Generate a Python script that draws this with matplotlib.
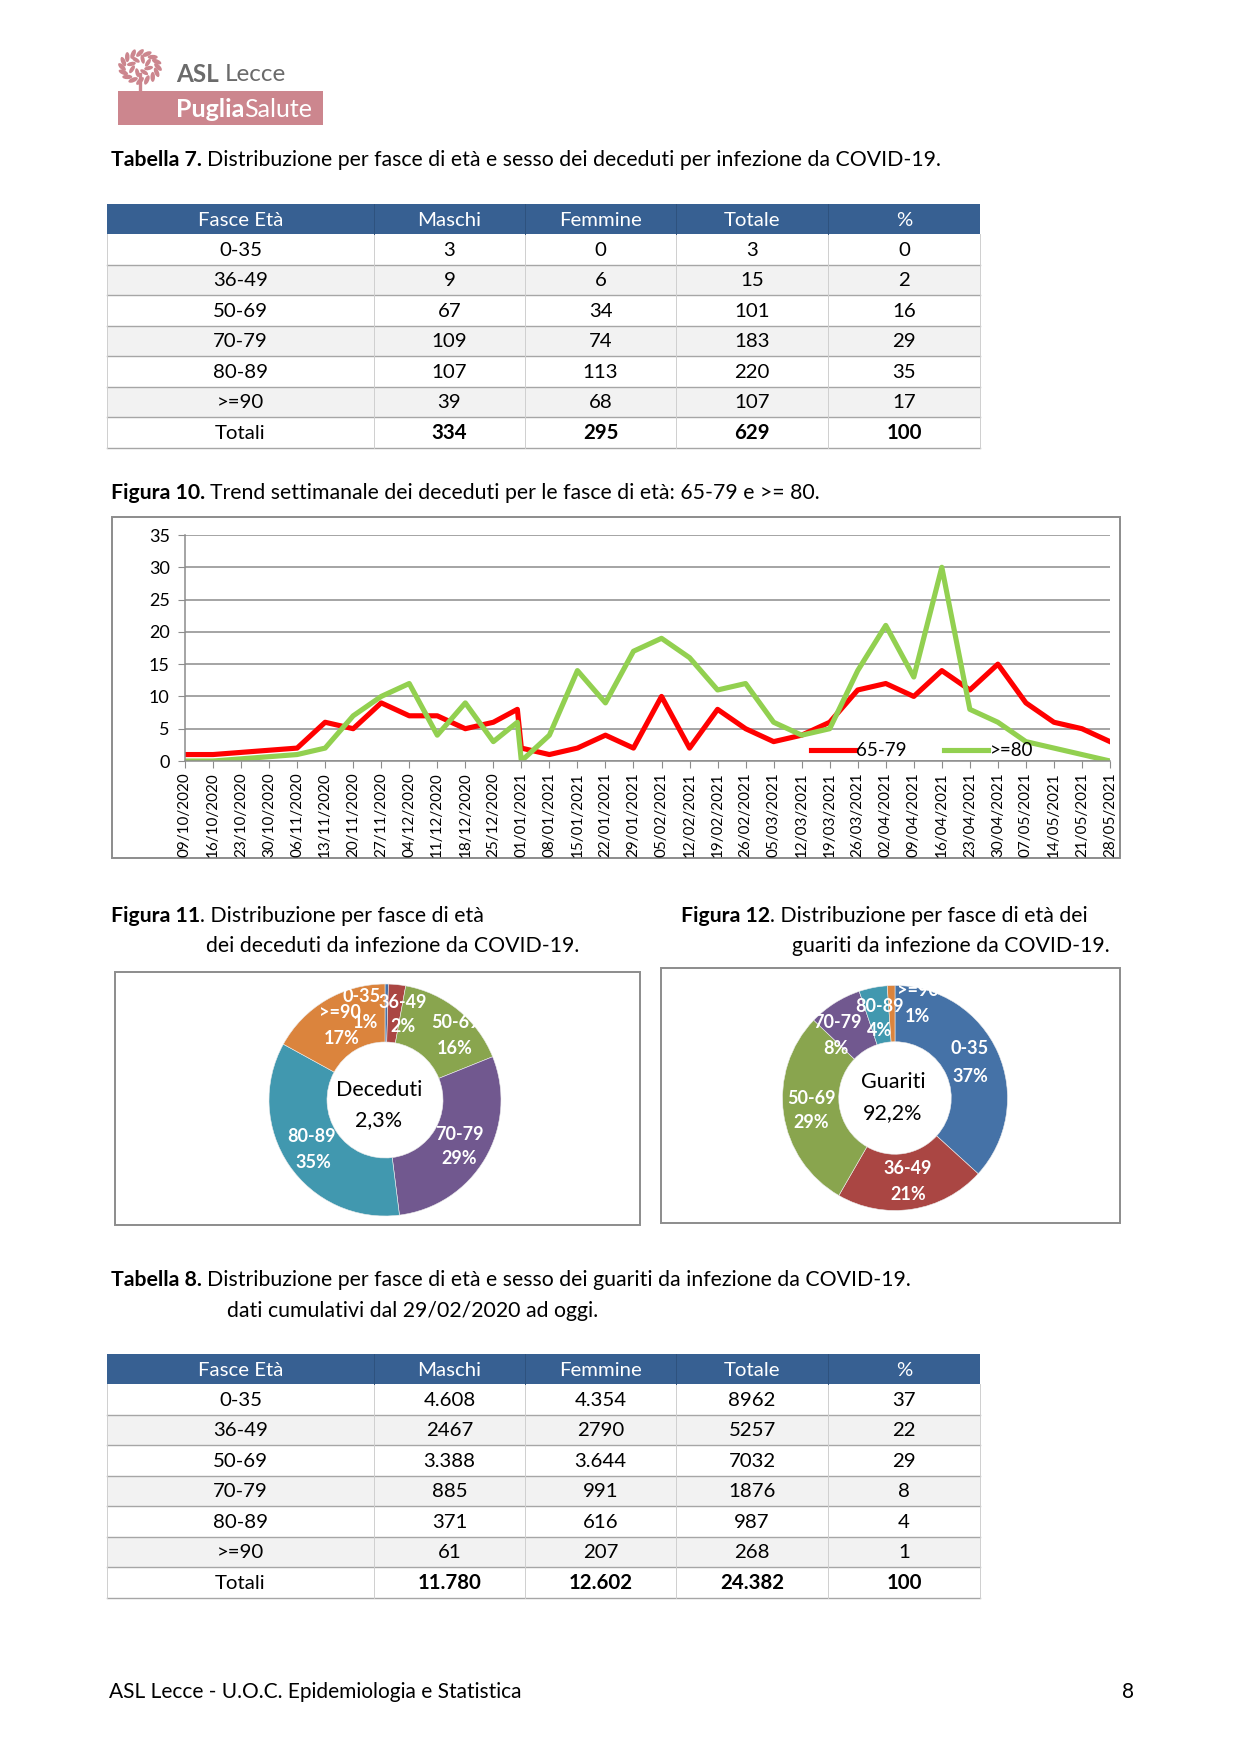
import matplotlib
matplotlib.use('Agg')
import matplotlib.pyplot as plt
from matplotlib.patches import Rectangle, Ellipse
import pandas as pd
import numpy as np

plt.rcParams['font.family'] = ['Lato', 'DejaVu Sans']

# ---- data ----
fasce = ['0-35', '36-49', '50-69', '70-79', '80-89', '>=90']
col_heads = ['Fasce Età', 'Maschi', 'Femmine', 'Totale', '%']

dec_maschi = [3, 9, 67, 109, 107, 39]
dec_femmine = [0, 6, 34, 74, 113, 68]
dec_totale = [3, 15, 101, 183, 220, 107]
dec_pct = [0, 2, 16, 29, 35, 17]
dec_tot_row = ['334', '295', '629', '100']

gua_maschi = ['4.608', '2467', '3.388', '885', '371', '61']
gua_femmine = ['4.354', '2790', '3.644', '991', '616', '207']
gua_totale = [8962, 5257, 7032, 1876, 987, 268]
gua_pct = [37, 22, 29, 8, 4, 1]
gua_tot_row = ['11.780', '12.602', '24.382', '100']

week_dates = ['09/10/2020', '16/10/2020', '06/11/2020', '13/11/2020', '20/11/2020',
              '27/11/2020', '04/12/2020', '11/12/2020', '18/12/2020', '25/12/2020',
              '31/12/2020', '01/01/2021', '08/01/2021', '15/01/2021', '22/01/2021',
              '29/01/2021', '05/02/2021', '12/02/2021', '19/02/2021', '26/02/2021',
              '05/03/2021', '12/03/2021', '19/03/2021', '26/03/2021', '02/04/2021',
              '09/04/2021', '16/04/2021', '23/04/2021', '30/04/2021', '07/05/2021',
              '14/05/2021', '21/05/2021', '28/05/2021']
dec_65_79 = [1, 1, 2, 6, 5, 9, 7, 7, 5, 6, 8, 2, 1, 2, 4, 2, 10, 2, 8, 5,
             3, 4, 6, 11, 12, 10, 14, 11, 15, 9, 6, 5, 3]
dec_80 = [0, 0, 1, 2, 7, 10, 12, 4, 9, 3, 6, 0, 4, 14, 9, 17, 19, 16, 11, 12,
          6, 4, 5, 14, 21, 13, 30, 8, 6, 3, 2, 1, 0]

dec_pie_pct = ['1%', '2%', '16%', '29%', '35%', '17%']
gua_pie_pct = ['37%', '21%', '29%', '8%', '4%', '1%']

pie_colors = ['#4572A7', '#AA4643', '#89A54E', '#71588F', '#4198AF', '#DB843D']

W, H = 1241, 1755
fig = plt.figure(figsize=(W / 100, H / 100), dpi=100)
ov = fig.add_axes([0, 0, 1, 1], zorder=0)
ov.set_xlim(0, W)
ov.set_ylim(H, 0)
ov.axis('off')
rend = fig.canvas.get_renderer()


def px_axes(x0, y0, x1, y1):
    return fig.add_axes([x0 / W, 1 - y1 / H, (x1 - x0) / W, (y1 - y0) / H], zorder=2)


def rich(x, y, parts, size=15.3, color='black'):
    # parts: (text, bold, gap before in px)
    for s, bold, gap in parts:
        x += gap
        t = ov.text(x, y, s, fontsize=size, fontweight='bold' if bold else 'normal',
                    va='center', ha='left', color=color)
        x += t.get_window_extent(renderer=rend).width


# ---- logo ----
pink = '#CC868E'
ov.add_patch(Rectangle((118, 91), 205, 34, color=pink, lw=0))
for k in range(16):
    a = k * 2 * np.pi / 16
    ov.add_patch(Ellipse((140 + 18 * np.cos(a), 67 + 14 * np.sin(a)), 10, 4.5,
                         angle=np.degrees(a) + 45, color=pink, lw=0))
for k in range(8):
    a = k * 2 * np.pi / 8 + 0.3
    ov.add_patch(Ellipse((140 + 9 * np.cos(a), 66 + 7 * np.sin(a)), 9, 4,
                         angle=np.degrees(a) - 30, color=pink, lw=0))
ov.plot([140, 140], [74, 92], color=pink, lw=2.4)
rich(176, 74, [('ASL', True, 0), ('Lecce', False, 6)], size=17.5, color='#6B6B6B')
rich(176, 109, [('Puglia', True, 0), ('Salute', False, 0)], size=18, color='white')

# ---- captions ----
rich(111, 160, [('Tabella 7.', True, 0),
                ('Distribuzione per fasce di età e sesso dei deceduti per infezione da COVID-19.', False, 5)])
rich(111, 493, [('Figura 10.', True, 0),
                ('Trend settimanale dei deceduti per le fasce di età: 65-79 e >= 80.', False, 5)])
rich(111, 916, [('Figura 11', True, 0), ('. Distribuzione per fasce di età', False, 0)])
rich(206, 946, [('dei deceduti da infezione da COVID-19.', False, 0)])
rich(681, 916, [('Figura 12', True, 0), ('. Distribuzione per fasce di età dei', False, 0)])
rich(792, 946, [('guariti da infezione da COVID-19.', False, 0)])
rich(111, 1280, [('Tabella 8.', True, 0),
                 ('Distribuzione per fasce di età e sesso dei guariti da infezione da COVID-19.', False, 5)])
rich(227, 1311, [('dati cumulativi dal 29/02/2020 ad oggi.', False, 0)])
rich(109, 1692, [('ASL Lecce - U.O.C. Epidemiologia e Statistica', False, 0)], size=15)
ov.text(1128, 1692, '8', fontsize=15, va='center', ha='center')

# ---- tables ----
cols = [107, 374, 525, 676, 828, 980]


def draw_table(top, body, totals):
    hh, rh = 30, 30.5
    ov.add_patch(Rectangle((cols[0], top), cols[-1] - cols[0], hh, color='#376092', lw=0))
    for j, txt in enumerate(col_heads):
        ov.text((cols[j] + cols[j + 1]) / 2, top + hh / 2 + 1, txt, color='white',
                fontsize=14.7, ha='center', va='center')
    rows = body + [['Totali'] + totals]
    for i, row in enumerate(rows):
        y0 = top + hh + i * rh
        if i % 2 == 1:
            ov.add_patch(Rectangle((cols[0], y0), cols[-1] - cols[0], rh, color='#F2F2F2', lw=0))
        for j, txt in enumerate(row):
            w = 'bold' if (i == len(rows) - 1 and j > 0) else 'normal'
            ov.text((cols[j] + cols[j + 1]) / 2, y0 + rh / 2 + 1, str(txt), fontsize=14.7,
                    ha='center', va='center', fontweight=w)
        ov.plot([cols[0], cols[-1]], [y0 + rh, y0 + rh], color='#A6A6A6', lw=1.0)
    bottom = top + hh + len(rows) * rh
    for x in cols:
        ov.plot([x, x], [top + hh, bottom], color='#CFCFCF', lw=0.7)
    for x in cols[1:-1]:
        ov.plot([x, x], [top, top + hh], color='#2E527E', lw=0.7)


body7 = [[f, m, fe, t, p] for f, m, fe, t, p in
         zip(fasce, dec_maschi, dec_femmine, dec_totale, dec_pct)]
draw_table(204, body7, dec_tot_row)
body8 = [[f, m, fe, t, p] for f, m, fe, t, p in
         zip(fasce, gua_maschi, gua_femmine, gua_totale, gua_pct)]
draw_table(1354, body8, gua_tot_row)

# ---- frames ----
for (x0, y0, x1, y1) in [(112, 517, 1120, 858), (115, 972, 640, 1225), (661, 968, 1120, 1223)]:
    ov.add_patch(Rectangle((x0, y0), x1 - x0, y1 - y0, fill=False, ec='#8C8C8C', lw=1.4))

# ---- line chart ----
lx = px_axes(185, 535, 1110, 761)
lx.patch.set_alpha(0)
d = pd.to_datetime(week_dates, format='%d/%m/%Y')
lx.plot(d, dec_65_79, color='#FF0000', lw=3.7, label='65-79')
lx.plot(d, dec_80, color='#92D050', lw=3.7, label='>=80')
lx.set_ylim(0, 35)
lx.set_yticks(range(0, 36, 5))
lx.set_xlim(d[0], d[-1])
ticks = pd.date_range(d[0], d[-1], freq='7D')
lx.set_xticks(ticks)
lx.set_xticklabels([t.strftime('%d/%m/%Y') for t in ticks], rotation=90)
lx.yaxis.grid(True, color='#8C8C8C', lw=1.1)
lx.set_axisbelow(True)
for s in ['top', 'right']:
    lx.spines[s].set_visible(False)
for s in ['left', 'bottom']:
    lx.spines[s].set_color('#8C8C8C')
    lx.spines[s].set_linewidth(1.1)
lx.tick_params(axis='y', length=5, color='#8C8C8C', labelsize=13, pad=6)
lx.tick_params(axis='x', length=5, color='#8C8C8C', labelsize=11, pad=3)
lx.legend(loc='center', bbox_to_anchor=(0.797, 0.045), ncol=2, frameon=False,
          fontsize=13.5, handlelength=2.3, columnspacing=2.0, handletextpad=0.1,
          borderaxespad=0)


# ---- donuts ----
def donut(cx, cy, R, vals, pcts, name_pos, pct_pos, center, center_pos):
    ax = px_axes(cx - R, cy - R, cx + R, cy + R)
    ax.pie(vals, colors=pie_colors, startangle=90, counterclock=False, radius=1,
           wedgeprops=dict(width=0.5, edgecolor='#EDEDED', linewidth=0.4))
    ax.set_xlim(-1, 1)
    ax.set_ylim(-1, 1)
    for name, p, (nx, ny), (qx, qy) in zip(fasce, pcts, name_pos, pct_pos):
        ax.text((nx - cx) / R, (cy - ny) / R, name, color='white', fontsize=13,
                fontweight='bold', ha='center', va='center')
        ax.text((qx - cx) / R, (cy - qy) / R, p, color='white', fontsize=13,
                fontweight='bold', ha='center', va='center')
    for txt, (tx, ty) in zip(center, center_pos):
        ax.text((tx - cx) / R, (cy - ty) / R, txt, fontsize=15.5, ha='center', va='center')


donut(385, 1100, 116, dec_totale, dec_pie_pct,
      [(362, 996), (403, 1002), (455, 1023), (459, 1134), (312, 1137), (340, 1013)],
      [(366, 1022), (403, 1027), (455, 1049), (459, 1159), (313, 1162), (342, 1039)],
      ['Deceduti', '2,3%'], [(379, 1090), (379, 1120)])
donut(895, 1098, 112.5, gua_totale, gua_pie_pct,
      [(970, 1049), (908, 1169), (811, 1098), (837, 1023), (880, 1006), (918, 991)],
      [(970, 1076), (908, 1195), (811, 1123), (836, 1049), (880, 1031), (918, 1017)],
      ['Guariti', '92,2%'], [(893, 1082), (893, 1113)])

fig.savefig('out.png', dpi=100)
